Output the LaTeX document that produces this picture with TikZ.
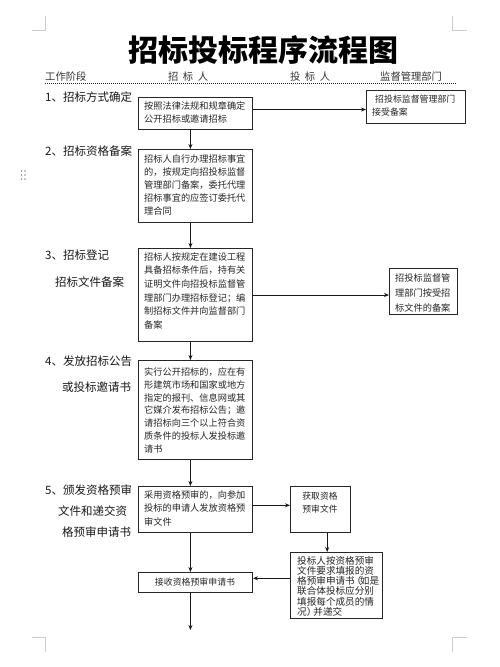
\documentclass[tikz,border=0pt]{standalone}
\usepackage{fontspec}
\newfontfamily\cjk{Noto Sans CJK SC}
\usetikzlibrary{arrows.meta,calc}
\begin{document}
\begin{tikzpicture}[x=1pt,y=-1pt,
 box/.style={draw=black!85, line width=1pt, inner sep=0pt, anchor=north west},
 txt/.style={inner sep=0pt, anchor=north west, align=left, text=black!85, font=\cjk\fontsize{9.2}{13}\selectfont},
 arr/.style={draw=black!90, line width=0.9pt, -{Stealth[length=5pt,width=4pt]}},
 lab/.style={inner sep=0pt, anchor=west, font=\cjk\fontsize{11.5}{14}\selectfont, text=black!90},
 head/.style={inner sep=0pt, anchor=west, font=\cjk\fontsize{10.3}{12}\selectfont, text=black!80},
 crop/.style={draw=black!20, line width=0.8pt}]
\useasboundingbox (0,0) rectangle (500,667);
\fill[white] (0,0) rectangle (500,667);
% crop marks
\draw[crop] (32,30) -- (45.5,30) -- (45.5,16);
\draw[crop] (467,30) -- (452,30) -- (452,16);
\draw[crop] (32,637.5) -- (45.5,637.5) -- (45.5,652);
\draw[crop] (467,637.5) -- (452,637.5) -- (452,652);
% grip
\foreach \gx in {21.5,25} \foreach \gy in {171,175,179} \fill[black!45] (\gx,\gy) circle (0.9);
% title
\node[inner sep=0pt, font=\cjk\bfseries\fontsize{30}{34}\selectfont] (title) at (263.5,50) {招标投标程序流程图};
% header
\node[head] (h1) at (45,77) {工作阶段};
\node[head] (h2) at (168,77) {招\hspace{4.5pt}标\hspace{4.5pt}人};
\node[head] (h3) at (290,77) {投\hspace{4.5pt}标\hspace{4.5pt}人};
\node[head] (h4) at (380,77) {监督管理部门};
\draw[black!85, line width=1pt, dash pattern=on 1pt off 1pt] (45,83) -- (457,83);
% step labels
\node[lab] (s1) at (45,97) {1、招标方式确定};
\node[lab] (s2) at (45,151) {2、招标资格备案};
\node[lab] (s3a) at (45,255) {3、招标登记};
\node[lab] (s3b) at (55,282) {招标文件备案};
\node[lab] (s4a) at (45,361) {4、发放招标公告};
\node[lab] (s4b) at (62,387) {或投标邀请书};
\node[lab] (s5a) at (45,490) {5、颁发资格预审};
\node[lab] (s5b) at (58,511) {文件和递交资};
\node[lab] (s5c) at (62,532) {格预审申请书};
% boxes
\node[box, minimum width=114pt, minimum height=32pt] (b1) at (138,97) {};
\node[box, minimum width=99pt, minimum height=33pt] (r1) at (366,90) {};
\node[box, minimum width=114pt, minimum height=73pt] (b2) at (138,149) {};
\node[box, minimum width=114pt, minimum height=93pt] (b3) at (138,248) {};
\node[box, minimum width=68pt, minimum height=46pt] (r3) at (389,268) {};
\node[box, minimum width=114pt, minimum height=99pt] (b4) at (138,360) {};
\node[box, minimum width=114pt, minimum height=46pt] (b5) at (138,486) {};
\node[box, minimum width=60pt, minimum height=46pt] (c5) at (290,486) {};
\node[box, minimum width=92pt, minimum height=66pt] (c6) at (290,552) {};
\node[box, minimum width=114pt, minimum height=20pt] (b6) at (138,572) {};
% texts
\node[txt] (t1) at (144,101.4) {按照法律法规和规章确定\\公开招标或邀请招标};
\node[txt, font=\cjk\fontsize{8.9}{13}\selectfont] (tr1) at (372,95) {\hspace*{3pt}招投标监督管理部门\\接受备案};
\node[txt] (t2) at (144,154.4) {招标人自行办理招标事宜\\的，按规定向招投标监督\\管理部门备案，委托代理\\招标事宜的应签订委托代\\理合同};
\node[txt, font=\cjk\fontsize{9.2}{13.6}\selectfont] (t3) at (144,252.4) {招标人按规定在建设工程\\具备招标条件后，持有关\\证明文件向招投标监督管\\理部门办理招标登记；编\\制招标文件并向监督部门\\备案};
\node[txt, font=\cjk\fontsize{9.2}{15}\selectfont] (tr3) at (395,273.4) {招投标监督管\\理部门按受招\\标文件的备案};
\node[txt, font=\cjk\fontsize{9.2}{12.8}\selectfont] (t4) at (144,367.4) {实行公开招标的，应在有\\形建筑市场和国家或地方\\指定的报刊、信息网或其\\它媒介发布招标公告；邀\\请招标向三个以上符合资\\质条件的投标人发投标邀\\请书};
\node[txt, font=\cjk\fontsize{9.2}{13.5}\selectfont] (t5) at (144,490.4) {采用资格预审的，向参加\\投标的申请人发放资格预\\审文件};
\node[txt, anchor=north, align=center, font=\cjk\fontsize{8.8}{13.5}\selectfont] (tc5) at (320,491.6) {获取资格\\预审文件};
\node[txt, font=\cjk\fontsize{9.6}{10.2}\selectfont] (tc6) at (297,556) {投标人按资格预审\\文件要求填报的资\\格预审申请书\kern-3pt（\kern-1.5pt如是\\联合体投标应分别\\填报每个成员的情\\况）\kern-3pt并递交};
\node[txt, anchor=center, font=\cjk\fontsize{8.9}{12}\selectfont] (t6) at (195,582) {接收资格预审申请书};
% connectors
\coordinate (p1) at ($(b1.north east)!0.38!(b1.south east)$);
\draw[arr] (p1) -- (p1 -| r1.west);
\coordinate (q1) at ($(b1.south west)!0.456!(b1.south east)$);
\draw[arr] (q1) -- (q1 |- b2.north);
\coordinate (q2) at ($(b2.south west)!0.456!(b2.south east)$);
\draw[arr] (q2) -- (q2 |- b3.north);
\draw[arr] (b3.east) -- (b3.east -| r3.west);
\coordinate (q3) at ($(b3.south west)!0.456!(b3.south east)$);
\draw[arr] (q3) -- (q3 |- b4.north);
\coordinate (q4) at ($(b4.south west)!0.456!(b4.south east)$);
\draw[arr] (q4) -- (q4 |- b5.north);
\coordinate (p5) at ($(b5.north east)!0.41!(b5.south east)$);
\draw[arr] (p5) -- (p5 -| c5.west);
\coordinate (qc) at ($(c5.south west)!0.61!(c5.south east)$);
\draw[arr] (qc) -- (qc |- c6.north);
\coordinate (q5) at ($(b5.south west)!0.456!(b5.south east)$);
\draw[arr] (q5) -- (q5 |- b6.north);
\coordinate (p6) at ($(b6.north east)!0.3!(b6.south east)$);
\draw[arr] (p6 -| c6.west) -- (p6);
\coordinate (q6) at ($(b6.south west)!0.456!(b6.south east)$);
\coordinate (end) at (190,630);
\draw[arr] (q6) -- (q6 |- end);
\end{tikzpicture}
\end{document}
